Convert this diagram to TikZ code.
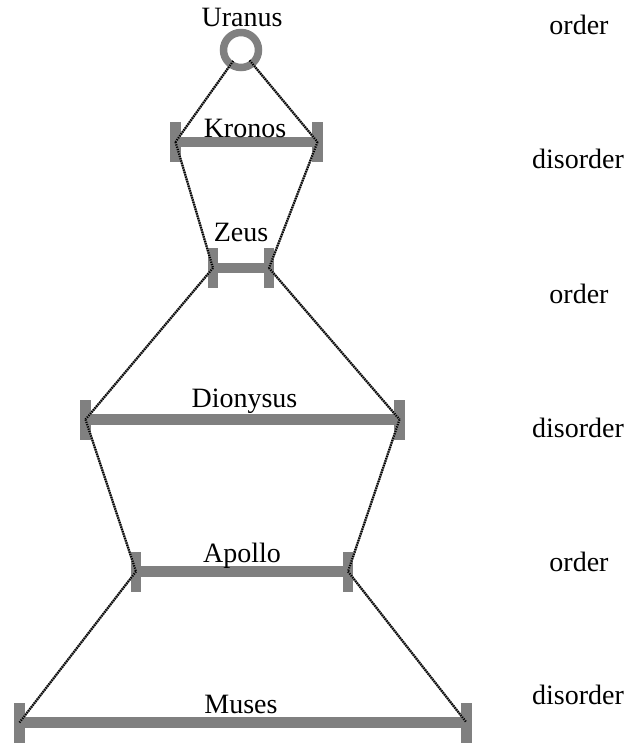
\documentclass[tikz,border=0pt]{standalone}
\usepackage{fontspec}
\setmainfont{Liberation Serif}
\definecolor{bargray}{RGB}{128,128,128}
\tikzset{
  capbox/.style={rectangle, fill=bargray, inner sep=0pt, outer sep=0pt, minimum width=10.5bp, minimum height=40bp},
  barline/.style={draw=bargray, line width=10.5bp},
  rope/.style={draw=bargray, line width=2.2bp},
  ropedash/.style={draw=black, line width=2.2bp, dash pattern=on 1.2bp off 1.2bp},
  lbl/.style={anchor=base, inner sep=0pt, font=\fontsize{28bp}{30bp}\selectfont},
  ring/.style={circle, draw=bargray, line width=7.5bp, fill=white, minimum size=35bp, inner sep=0pt, outer sep=0pt}
}
\begin{document}
\begin{tikzpicture}[x=1bp,y=-1bp]
\useasboundingbox (0,0) rectangle (631,743);
% Uranus
\node[ring] (ura) at (241,50) {};
\node[lbl] (luran) at (242,27) {Uranus};
% Kronos
\node[capbox] (kl) at (175.5,142) {};
\node[capbox] (kr) at (317.5,142) {};
\draw[barline] (kl.center) -- (kr.center);
\node[lbl] (lkron) at (245,137) {Kronos};
% Zeus
\node[capbox] (zl) at (213,268) {};
\node[capbox] (zr) at (269,268) {};
\draw[barline] (zl.center) -- (zr.center);
\node[lbl] (lzeus) at (241,241) {Zeus};
% Dionysus
\node[capbox] (dl) at (85.5,419.5) {};
\node[capbox] (dr) at (399.5,419.5) {};
\draw[barline] (dl.center) -- (dr.center);
\node[lbl] (ldion) at (244.5,407) {Dionysus};
% Apollo
\node[capbox] (al) at (136,571.5) {};
\node[capbox] (ar) at (348,571.5) {};
\draw[barline] (al.center) -- (ar.center);
\node[lbl] (lapol) at (242,562) {Apollo};
% Muses
\node[capbox] (ml) at (19.5,722.5) {};
\node[capbox] (mr) at (466.5,722.5) {};
\draw[barline] (ml.center) -- (mr.center);
\node[lbl] (lmuse) at (241,713) {Muses};
% connectors
\foreach \a/\b in {ura/kl.center, ura/kr.center}{
  \draw[rope, shorten <=-4bp] (\a) -- (\b);
  \draw[ropedash, shorten <=-4bp] (\a) -- (\b);
}
\foreach \a/\b in {kl/zl, kr/zr, zl/dl, zr/dr, dl/al, dr/ar, al/ml, ar/mr}{
  \draw[rope] (\a.center) -- (\b.center);
  \draw[ropedash] (\a.center) -- (\b.center);
}
% right labels
\node[lbl] (r1) at (579,35) {order};
\node[lbl] (r2) at (578,168) {disorder};
\node[lbl] (r3) at (579,303) {order};
\node[lbl] (r4) at (578,437) {disorder};
\node[lbl] (r5) at (579,571) {order};
\node[lbl] (r6) at (578,704) {disorder};
\end{tikzpicture}
\end{document}
